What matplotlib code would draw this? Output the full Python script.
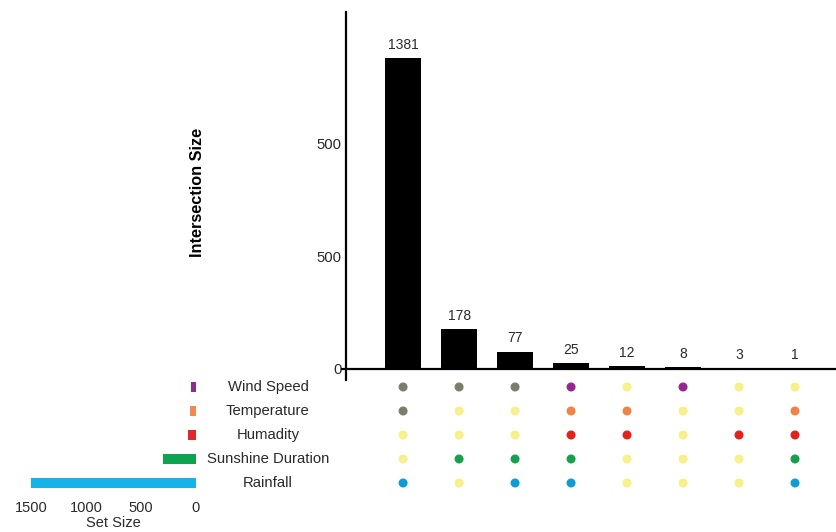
import matplotlib.pyplot as plt
from matplotlib.transforms import blended_transform_factory

plt.rcParams['font.family'] = ['Liberation Sans', 'DejaVu Sans']

# data
sets = ['Wind Speed', 'Temperature', 'Humadity', 'Sunshine Duration', 'Rainfall']
set_sizes = [45, 52, 70, 300, 1500]
set_colors = ['#8e2b8c', '#f08a50', '#e3262a', '#0ea351', '#17b3e8']

counts = [1381, 178, 77, 25, 12, 8, 3, 1]
y_ticks = [0, 500, 1000]
y_tick_labels = ['0', '500', '500']
set_ticks = [1500, 1000, 500, 0]

# dot colour codes per column (rows: wind, temp, humidity, sunshine, rainfall)
dot_codes = [
    ['g', 'g', 'y', 'y', 'b'],
    ['g', 'y', 'y', 'G', 'y'],
    ['g', 'y', 'y', 'G', 'b'],
    ['p', 'o', 'r', 'G', 'b'],
    ['y', 'o', 'r', 'y', 'y'],
    ['p', 'y', 'y', 'y', 'y'],
    ['y', 'y', 'r', 'y', 'y'],
    ['y', 'o', 'r', 'G', 'b'],
]
dot_palette = {'g': '#7d7d6e', 'y': '#f7f08c', 'p': '#93298e', 'o': '#ef8447',
               'r': '#e2231a', 'G': '#14a04c', 'b': '#0f9bd7'}

W, H = 837, 532
fig = plt.figure(figsize=(W / 100, H / 100), dpi=100)

def px_axes(x0, y0, x1, y1):
    # pixel box (top-left origin) -> figure axes
    return fig.add_axes([x0 / W, 1 - y1 / H, (x1 - x0) / W, (y1 - y0) / H])

xs = list(range(len(counts)))
xlim = (-1.02, 7.75)
txt = '#2a2a2a'

# intersection bars
ax = px_axes(346, 12, 837, 380)
ax.bar(xs, counts, width=0.63, color='black')
for x, c in zip(xs, counts):
    ax.text(x, c + 28, str(c), ha='center', va='bottom', fontsize=10, color=txt)
ax.set_xlim(*xlim)
ax.set_ylim(-49, 1585)
ax.set_xticks([])
ax.set_yticks(y_ticks)
ax.set_yticklabels(y_tick_labels, fontsize=10.7, color=txt)
ax.tick_params(axis='y', length=0, pad=3)
for s in ['top', 'right', 'bottom']:
    ax.spines[s].set_visible(False)
ax.spines['left'].set_linewidth(1.6)
ax.axhline(0, xmin=-0.008, xmax=1, color='black', lw=1.6, clip_on=False)
ax.set_ylabel('Intersection Size', fontsize=11.7, fontweight='bold')
ax.yaxis.set_label_coords(-0.287, 0.51)

# dot matrix
axd = px_axes(346, 375, 837, 495)
for x, col in zip(xs, dot_codes):
    for r, code in enumerate(col):
        axd.scatter(x, r, s=42, color=dot_palette[code], edgecolors='none')
axd.set_xlim(*xlim)
axd.set_ylim(4.5, -0.5)
axd.axis('off')

# set size bars
axs = px_axes(31, 375, 196, 495)
axs.barh(range(len(sets)), set_sizes, height=0.44, color=set_colors)
axs.set_xlim(1500, 0)
axs.set_ylim(4.5, -0.5)
axs.set_yticks([])
axs.set_xticks(set_ticks)
axs.set_xticklabels([str(t) for t in set_ticks], fontsize=10.5, color=txt)
axs.tick_params(axis='x', length=0, pad=4)
for s in axs.spines.values():
    s.set_visible(False)
axs.set_xlabel('Set Size', fontsize=10.5, labelpad=1, color=txt)

# row labels
tr = blended_transform_factory(fig.transFigure, axd.transData)
for r, name in enumerate(sets):
    fig.text(268 / W, r, name, transform=tr, ha='center', va='center',
             fontsize=10.7, color=txt)

fig.savefig('out.png', dpi=100)
